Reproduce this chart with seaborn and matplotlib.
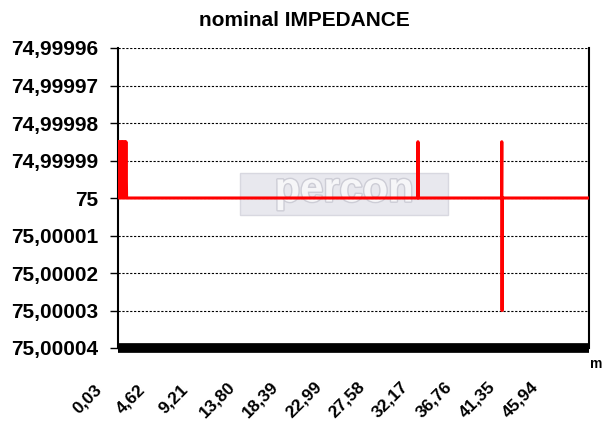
import matplotlib
matplotlib.use('Agg')
import matplotlib.pyplot as plt
import matplotlib.patheffects as pe
from matplotlib.patches import Rectangle
import seaborn as sns

# DATA
distance = [0.03, 0.10, 0.17, 0.24, 0.31, 0.38, 0.45, 0.52, 0.59, 0.66, 0.73, 0.80, 0.87, 0.94,
            31.78, 31.81, 31.84,
            40.66, 40.69, 40.72, 40.75,
            49.93]
impedance = [74.999985, 75, 74.999985, 75, 74.999985, 75, 74.999985, 75, 74.999985, 75, 74.999985, 75, 74.999985, 75,
             75, 74.999985, 75,
             75, 74.999985, 75.00003, 75,
             75]
floor_dist = [0.03, 49.93]
floor_val = [75.00004, 75.00004]

y_ticks = [74.99996, 74.99997, 74.99998, 74.99999, 75.0, 75.00001, 75.00002, 75.00003, 75.00004]
y_labels = ['74,99996', '74,99997', '74,99998', '74,99999', '75',
            '75,00001', '75,00002', '75,00003', '75,00004']
x_ticks = [0.03, 4.62, 9.21, 13.80, 18.39, 22.99, 27.58, 32.17, 36.76, 41.35, 45.94]
x_labels = ['0,03', '4,62', '9,21', '13,80', '18,39', '22,99', '27,58', '32,17', '36,76', '41,35', '45,94']

sns.set_style('white')
plt.rcParams['font.family'] = ['Liberation Sans', 'DejaVu Sans']
plt.rcParams['font.weight'] = 'bold'
plt.rcParams['text.color'] = 'black'
plt.rcParams['xtick.color'] = 'black'
plt.rcParams['ytick.color'] = 'black'
plt.rcParams['xtick.labelcolor'] = 'black'
plt.rcParams['ytick.labelcolor'] = 'black'

fig = plt.figure(figsize=(6.09, 4.24), dpi=100)
rect = [118 / 609, 1 - 348 / 424, 471 / 609, 300 / 424]

# axes only carrying the x labels (Excel draws them shifted to the left of the ticks)
lab_ax = fig.add_axes([(118 - 31) / 609, rect[1], rect[2], rect[3]])
lab_ax.set_xlim(0.03, 49.93)
lab_ax.set_xticks(x_ticks)
lab_ax.set_xticklabels(x_labels, fontsize=12.5, fontweight='bold', rotation=45,
                       ha='center', va='center', rotation_mode='anchor', color='black')
lab_ax.tick_params(axis='x', length=0, pad=37)
lab_ax.set_yticks([])
lab_ax.patch.set_visible(False)
for s in lab_ax.spines.values():
    s.set_visible(False)

ax = fig.add_axes(rect)

# watermark logo
ax.add_patch(Rectangle((0.259, 0.443), 0.441, 0.14, transform=ax.transAxes,
                       facecolor='#e8e8ee', edgecolor='#d8d8e0', linewidth=1, zorder=0))
ax.text(0.48, 0.525, 'percon', transform=ax.transAxes, ha='center', va='center',
        fontsize=30, fontweight='bold', color='#f6f6f8', zorder=0.5,
        path_effects=[pe.withStroke(linewidth=2, foreground='#cdcdd6')])

sns.lineplot(x=distance, y=impedance, sort=False, estimator=None, color='#ff0000',
             linewidth=2.2, ax=ax, zorder=3)
sns.lineplot(x=floor_dist, y=floor_val, sort=False, estimator=None, color='black',
             linewidth=7, ax=ax, zorder=4)
for ln in ax.lines[1:]:
    ln.set_clip_on(False)
    ln.set_solid_capstyle('butt')

ax.set_xlim(0.03, 49.93)
ax.set_ylim(75.00004, 74.99996)
ax.set_yticks(y_ticks)
ax.set_yticklabels(y_labels, fontsize=15, fontweight='bold', color='black')
ax.set_xticks(x_ticks)
ax.set_xticklabels([])

ax.tick_params(axis='y', direction='out', length=6, width=1, color='black', left=True, pad=8)
ax.tick_params(axis='x', length=0)
ax.grid(axis='y', color='black', linestyle=(0, (2, 1.5)), linewidth=0.8)
ax.grid(axis='x', visible=False)

for side in ['left', 'right']:
    ax.spines[side].set_color('black')
    ax.spines[side].set_linewidth(1.5)
ax.spines['top'].set_visible(False)
ax.spines['bottom'].set_visible(False)

ax.text(1.003, -0.03, 'm', transform=ax.transAxes, ha='left', va='top', fontsize=10,
        fontweight='bold', color='black')
fig.suptitle('nominal IMPEDANCE', x=0.5, y=1 - 20 / 424, va='center', fontsize=15,
             fontweight='bold', color='black')

ax.set_xlabel('')
ax.set_ylabel('')

fig.savefig('out.png', dpi=100)
